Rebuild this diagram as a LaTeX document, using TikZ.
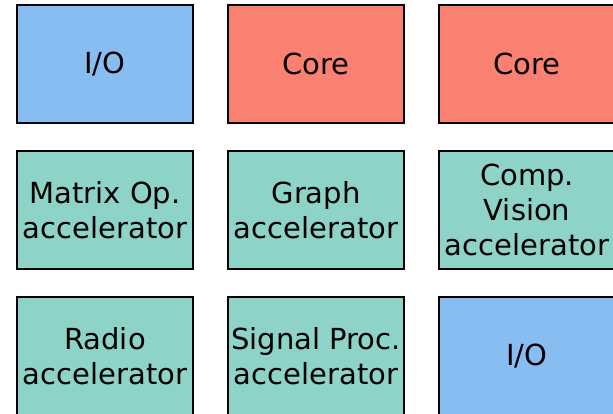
\documentclass[tikz,border=0pt]{standalone}
\usepackage{fontspec}
\setmainfont{DejaVu Sans}
\definecolor{iob}{RGB}{136,189,242}
\definecolor{corer}{RGB}{250,128,114}
\definecolor{accg}{RGB}{141,211,199}
\begin{document}
\begin{tikzpicture}[x=1pt,y=-1pt,
  blk/.style={draw=black,line width=2pt,minimum width=176pt,minimum height=118pt,
    inner sep=0pt,align=center,font=\fontsize{29}{35}\selectfont,anchor=north west},
  io/.style={blk,fill=iob},
  corebox/.style={blk,fill=corer},
  acc/.style={blk,fill=accg}]
\useasboundingbox (0,0) rectangle (613,414);
\node[io] (io1) at (16,4) {I/O};
\node[corebox] (c1) at (227,4) {Core};
\node[corebox] (c2) at (438,4) {Core};
\node[acc] (m) at (16,150) {Matrix Op.\\accelerator};
\node[acc] (g) at (227,150) {Graph\\accelerator};
\node[acc] (v) at (438,150) {Comp.\\Vision\\accelerator};
\node[acc] (r) at (16,296) {Radio\\accelerator};
\node[acc] (s) at (227,296) {Signal Proc.\\accelerator};
\node[io] (io2) at (438,296) {I/O};
\end{tikzpicture}
\end{document}
